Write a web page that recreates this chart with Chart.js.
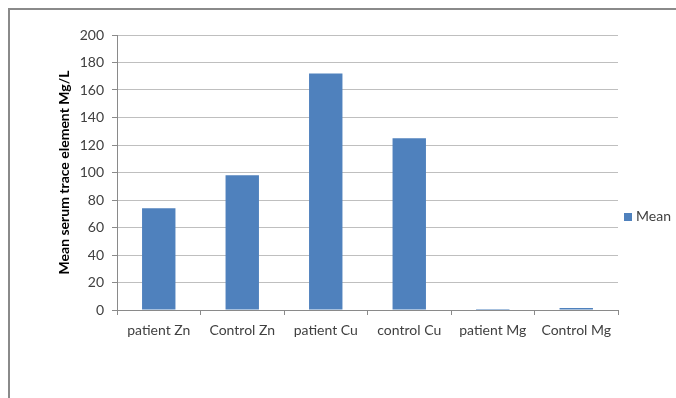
<!DOCTYPE html>
<html>
<head>
<meta charset="utf-8">
<script src="https://cdn.jsdelivr.net/npm/chart.js@4"></script>
<style>
  html, body { margin: 0; padding: 0; background: #fff; }
  #wrap { position: relative; width: 676px; height: 398px; overflow: hidden; }
  #frame { position: absolute; left: 8px; top: 8px; width: 700px; height: 420px;
           border-left: 2px solid #8a8a8a; border-top: 2px solid #8a8a8a; }
  #chart { position: absolute; left: 0; top: 0; }
  #legend { position: absolute; left: 624px; top: 207px; font: 14px Lato, sans-serif; color: #404040; }
  #legend span.box { display: inline-block; width: 8px; height: 8px; background: #4f81bd; margin-right: 4px; }
</style>
</head>
<body>
<div id="wrap">
  <div id="frame"></div>
  <canvas id="chart" width="676" height="398"></canvas>
  <div id="legend"></div>
</div>
<script>
const categories = ["patient Zn", "Control Zn", "patient Cu", "control Cu", "patient Mg", "Control Mg"];
const meanValues = [74, 98, 172, 125, 0.8, 1.5];
const seriesName = "Mean";
const yTicks = { min: 0, max: 200, step: 20 };

const BAR_COLOR = "#4f81bd";
const TEXT_COLOR = "#404040";

// legend drawn as html so it can sit where excel put it
document.getElementById("legend").innerHTML =
  `<span class="box"></span>${seriesName}`;

new Chart(document.getElementById("chart"), {
  type: "bar",
  data: {
    labels: categories,
    datasets: [{
      label: seriesName,
      data: meanValues,
      backgroundColor: BAR_COLOR,
      barPercentage: 0.4,
      categoryPercentage: 1
    }]
  },
  options: {
    responsive: false,
    animation: false,
    layout: { padding: { top: 35, right: 58, bottom: 0, left: 0 } },
    plugins: { legend: { display: false }, tooltip: { enabled: false } },
    scales: {
      x: {
        offset: true,
        grid: { offset: true, drawOnChartArea: false, color: "#8a8a8a", tickLength: 5 },
        border: { color: "#8a8a8a" },
        ticks: { color: TEXT_COLOR, font: { family: "Lato", size: 14 }, padding: 7 },
        afterFit: s => { s.height = 88; }
      },
      y: {
        min: yTicks.min,
        max: yTicks.max,
        ticks: { stepSize: yTicks.step, color: TEXT_COLOR, font: { family: "Lato", size: 14 }, padding: 8 },
        grid: { color: "#bfbfbf", tickLength: 5, tickColor: "#8a8a8a" },
        border: { color: "#8a8a8a" },
        title: {
          display: true,
          text: "Mean serum trace element Mg/L",
          color: "#000",
          font: { family: "Lato", size: 14, weight: "bold" },
          padding: { top: 56 }
        },
        afterFit: s => { s.width = 117; }
      }
    }
  }
});
</script>
</body>
</html>
